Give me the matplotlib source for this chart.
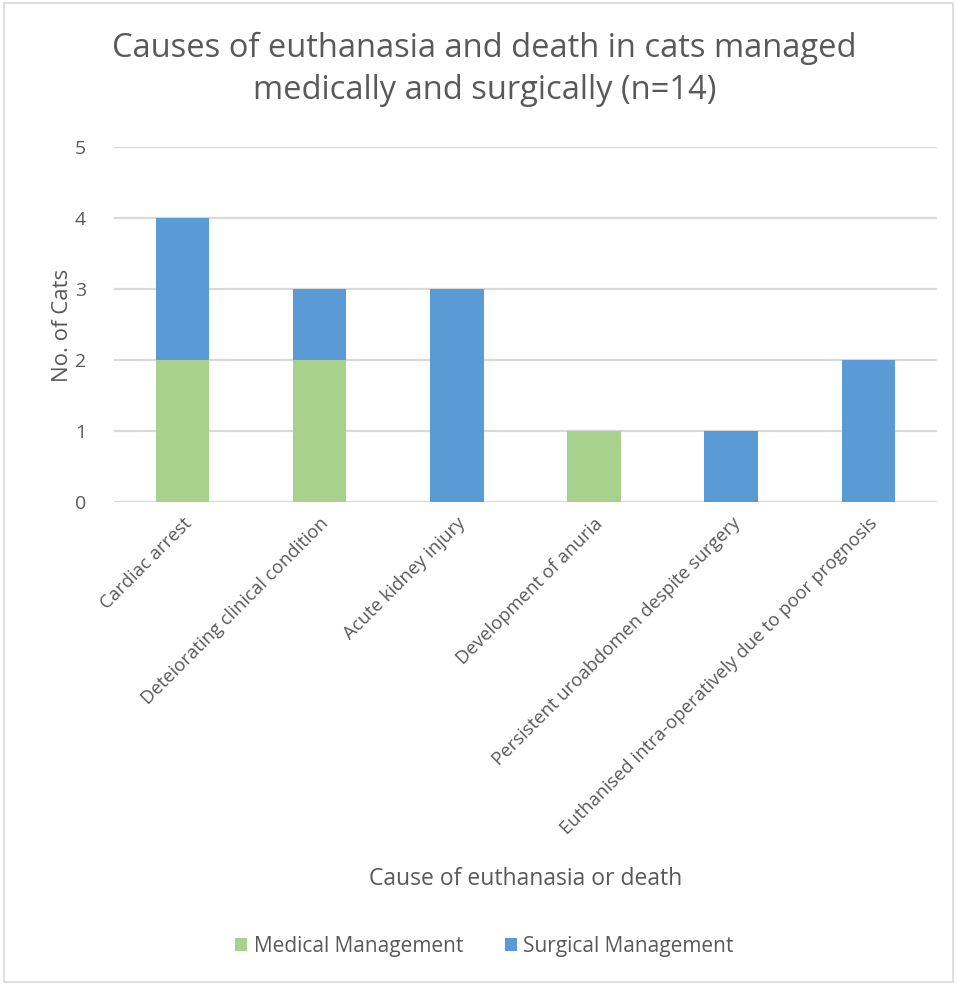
import matplotlib.pyplot as plt
from matplotlib.patches import Rectangle

# Causes of euthanasia / death, counts per management type
causes = [
    "Cardiac arrest",
    "Deteiorating clinical condition",
    "Acute kidney injury",
    "Development of anuria",
    "Persistent uroabdomen despite surgery",
    "Euthanised intra-operatively due to poor prognosis",
]
medical = [2, 2, 0, 1, 0, 0]
surgical = [2, 1, 3, 0, 1, 2]
y_ticks = [0, 1, 2, 3, 4, 5]

GREEN = "#A9D18E"
BLUE = "#5B9BD5"
TXT = "#595959"
GRID = "#D9D9D9"

plt.rcParams["font.family"] = ["Open Sans", "DejaVu Sans"]

fig = plt.figure(figsize=(9.57, 9.85), dpi=100)
ax = fig.add_axes([0.119, 0.4904, 0.860, 0.3604])

x = range(len(causes))
ax.bar(x, medical, width=0.39, color=GREEN, label="Medical Management", zorder=3)
ax.bar(x, surgical, width=0.39, bottom=medical, color=BLUE,
       label="Surgical Management", zorder=3)

ax.set_xlim(-0.5, len(causes) - 0.5)
ax.set_ylim(0, 5)
ax.set_yticks(y_ticks)
ax.yaxis.grid(True, color=GRID, lw=1.6, zorder=0)
for s in ax.spines.values():
    s.set_visible(False)
ax.tick_params(axis="both", length=0, colors=TXT, labelsize=14)
ax.tick_params(axis="y", pad=20)
ax.set_xticks(list(x))
ax.set_xticklabels(causes, rotation=45, ha="right", rotation_mode="anchor",
                   fontsize=13.3, color=TXT)
ax.tick_params(axis="x", pad=9)

# title
fig.text(0.506, 0.9295, "Causes of euthanasia and death in cats managed\nmedically and surgically (n=14)",
         ha="center", va="center", fontsize=23.5, color=TXT, linespacing=1.35)
fig.text(0.065, 0.67, "No. of Cats", rotation=90, ha="center", va="center",
         fontsize=16, color=TXT)
fig.text(0.549, 0.108, "Cause of euthanasia or death", ha="center", va="center",
         fontsize=16.5, color=TXT)

fig.legend(loc="center", bbox_to_anchor=(0.506, 0.039), ncol=2, frameon=False,
           fontsize=15, handlelength=0.6, handleheight=0.6, handletextpad=0.3,
           columnspacing=2.0, labelcolor=TXT)

fig.patches.append(Rectangle((0.004, 0.003), 0.992, 0.994, transform=fig.transFigure,
                             fill=False, edgecolor=GRID, lw=1.2))

fig.savefig("out.png", dpi=100)
